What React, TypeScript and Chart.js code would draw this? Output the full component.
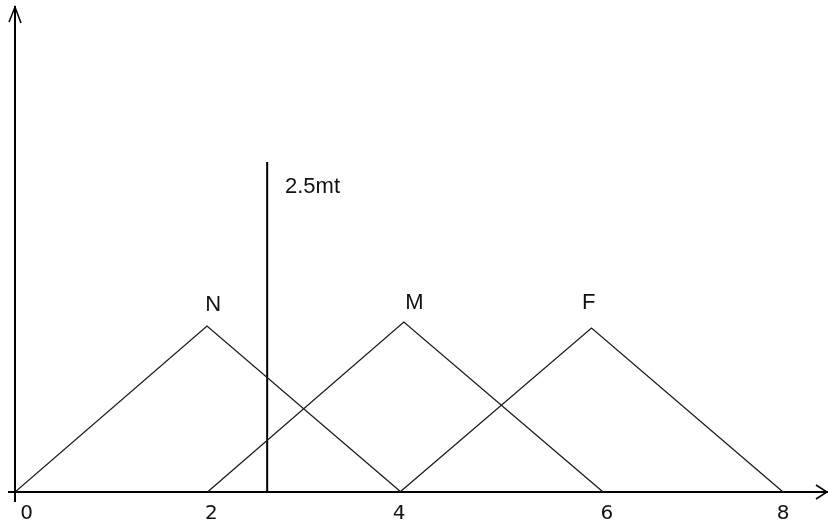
import React, { useEffect, useRef } from "react";
import { Chart, registerables } from "chart.js";

Chart.register(...registerables);

// Triangular membership functions (x in units, y as drawn height)
const nX = [0, 1.995, 4.01];
const nY = [0, 1.66, 0];
const mX = [2.0, 4.04, 6.11];
const mY = [0, 1.70, 0];
const fX = [4.0, 5.99, 7.98];
const fY = [0, 1.64, 0];

// Vertical marker line
const markerX = [2.62, 2.62];
const markerY = [0, 3.30];

// Tick labels and their positions
const tickValues = [0.12, 2.04, 3.99, 6.15, 7.98];
const tickLabels = ["0", "2", "4", "6", "8"];

// Annotations
const annoText = ["N", "M", "F", "2.5mt"];
const annoX = [2.06, 4.15, 5.96, 2.805];
const annoY = [1.87, 1.89, 1.89, 3.05];
const annoAlign = ["center", "center", "center", "left"];

const toPts = (xs: number[], ys: number[]) => xs.map((x, i) => ({ x, y: ys[i] }));

const extrasPlugin = {
  id: "extras",
  afterDraw(chart: any) {
    const { ctx, chartArea, scales } = chart;
    const xs = scales.x;
    const ys = scales.y;
    ctx.save();
    ctx.strokeStyle = "#000";
    ctx.lineWidth = 2;
    // axis extensions
    ctx.beginPath();
    ctx.moveTo(chartArea.left - 7, chartArea.bottom);
    ctx.lineTo(chartArea.left, chartArea.bottom);
    ctx.moveTo(chartArea.left, chartArea.bottom);
    ctx.lineTo(chartArea.left, chartArea.bottom + 10);
    ctx.stroke();
    // arrows
    ctx.lineWidth = 1.5;
    ctx.beginPath();
    ctx.moveTo(chartArea.left - 6, chartArea.top + 15);
    ctx.lineTo(chartArea.left, chartArea.top);
    ctx.lineTo(chartArea.left + 6, chartArea.top + 16);
    ctx.moveTo(chartArea.right - 12, chartArea.bottom - 7);
    ctx.lineTo(chartArea.right - 1, chartArea.bottom);
    ctx.lineTo(chartArea.right - 12, chartArea.bottom + 7);
    ctx.stroke();
    // text labels
    ctx.fillStyle = "#111";
    ctx.font = "22px 'Liberation Sans', Arial, sans-serif";
    ctx.textBaseline = "middle";
    annoText.forEach((t, i) => {
      ctx.textAlign = annoAlign[i] as CanvasTextAlign;
      ctx.fillText(t, xs.getPixelForValue(annoX[i]), ys.getPixelForValue(annoY[i]));
    });
    ctx.restore();
  },
};

export default function App() {
  const ref = useRef<HTMLCanvasElement>(null);
  useEffect(() => {
    if (!ref.current) return;
    const lineDs = (xs: number[], ys: number[], w: number, c: string) => ({
      data: toPts(xs, ys),
      borderColor: c,
      borderWidth: w,
      pointRadius: 0,
      fill: false,
      tension: 0,
      showLine: true,
    });
    const chart = new Chart(ref.current, {
      type: "scatter",
      data: {
        datasets: [
          lineDs(nX, nY, 1.3, "#1a1a1a"),
          lineDs(mX, mY, 1.3, "#1a1a1a"),
          lineDs(fX, fY, 1.3, "#1a1a1a"),
          lineDs(markerX, markerY, 2, "#000"),
        ],
      },
      options: {
        animation: false,
        responsive: false,
        maintainAspectRatio: false,
        layout: { padding: { left: 0, right: 0, top: 7, bottom: 0 } },
        plugins: { legend: { display: false }, tooltip: { enabled: false } },
        scales: {
          x: {
            type: "linear",
            min: 0,
            max: 8.447,
            grid: { display: false, drawTicks: false },
            border: { display: true, color: "#000", width: 2 },
            afterBuildTicks: (s: any) => {
              s.ticks = tickValues.map((v) => ({ value: v }));
            },
            afterFit: (s: any) => {
              s.height = 39;
            },
            ticks: {
              autoSkip: false,
              maxRotation: 0,
              padding: 10,
              color: "#111",
              font: { family: "'DejaVu Sans', sans-serif", size: 20 },
              callback: (_v: any, i: number) => tickLabels[i],
            },
          },
          y: {
            type: "linear",
            min: 0,
            max: 4.85,
            grid: { display: false, drawTicks: false },
            border: { display: true, color: "#000", width: 2 },
            ticks: { display: false },
            afterFit: (s: any) => {
              s.width = 15;
            },
          },
        },
      },
      plugins: [extrasPlugin],
    });
    return () => chart.destroy();
  }, []);
  return (
    <div style={{ position: "fixed", left: 0, top: 0, width: 828, height: 531, background: "#fff" }}>
      <canvas ref={ref} width={828} height={531} style={{ width: 828, height: 531 }} />
    </div>
  );
}
